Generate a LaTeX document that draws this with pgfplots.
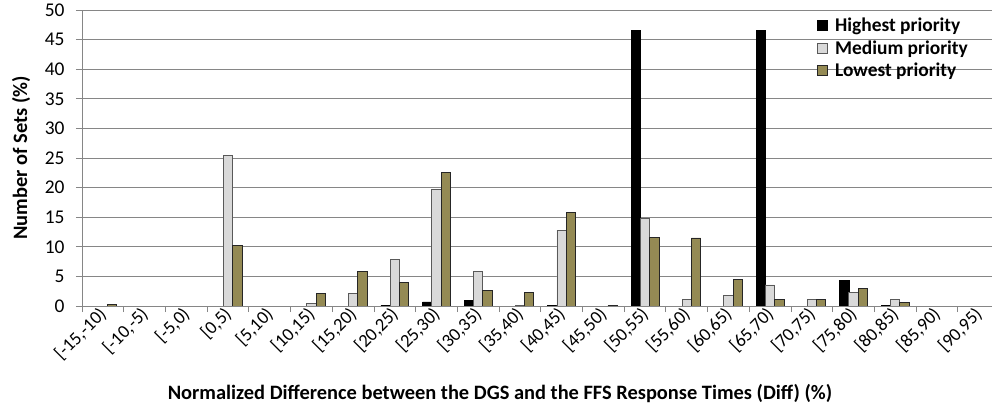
\documentclass[border=0pt]{standalone}
\usepackage{pgfplots}
\pgfplotsset{compat=1.18}
\usepackage{fontspec}
\setmainfont{Carlito}
\definecolor{olivebar}{RGB}{148,138,84}
\definecolor{medbar}{RGB}{217,217,217}
\definecolor{gridgray}{RGB}{134,134,134}
\definecolor{axgray}{RGB}{134,134,134}
\begin{document}
\begin{tikzpicture}
\useasboundingbox (0,0) rectangle (992bp,407bp);
\clip (0,0) rectangle (992bp,407bp);
\begin{axis}[
  at={(82bp,101bp)}, anchor=south west,
  scale only axis,
  width=917.4bp, height=296bp,
  ybar=0pt, bar width=9.3bp,
  xmin=-0.5, xmax=21.5,
  ymin=0, ymax=50,
  enlargelimits=false,
  axis x line*=bottom, axis y line*=left,
  axis line style={axgray, line width=0.8bp},
  ytick={0,5,...,50},
  ymajorgrids,
  grid style={gridgray, line width=0.8bp},
  tick align=outside,
  major tick length=6bp,
  minor tick length=6bp,
  ytick style={axgray, line width=0.8bp},
  xtick={0,...,21},
  major x tick style={draw=none},
  minor xtick={-0.5,0.5,...,21.5},
  minor x tick style={axgray, line width=0.8bp},
  xticklabels={{[-15,-10)},{[-10,-5)},{[-5,0)},{[0,5)},{[5,10)},{[10,15)},{[15,20)},{[20,25)},{[25,30)},{[30,35)},{[35,40)},{[40,45)},{[45,50)},{[50,55)},{[55,60)},{[60,65)},{[65,70)},{[70,75)},{[75,80)},{[80,85)},{[85,90)},{[90,95)}},
  xticklabel style={rotate=45, anchor=east, font=\fontsize{18.5}{21}\selectfont, inner sep=1bp, xshift=2bp},
  yticklabel style={font=\fontsize{19.5}{22}\selectfont, xshift=-8bp},
  /pgf/number format/assume math mode=true,
  xlabel={Normalized Difference between the DGS and the FFS Response Times (Diff) (\%)},
  ylabel={Number of Sets (\%)},
  xlabel style={font=\bfseries\fontsize{20.5}{24}\selectfont, at={(ticklabel cs:0.4556)}, anchor=north, yshift=-17bp},
  ylabel style={font=\bfseries\fontsize{20.5}{24}\selectfont, at={(rel axis cs:-0.0665,0.5)}, anchor=center},
  legend style={at={(0.7985,0.988)}, anchor=north west, draw=none, fill=none,
    font=\bfseries\fontsize{19.5}{22}\selectfont, row sep=3.6bp, inner sep=2bp},
  legend cell align=left,
  legend image code/.code={\path[draw=none, fill=none] (0bp,-1bp) rectangle (16bp,1bp); \draw[#1] (0bp,-5bp) rectangle (10bp,5bp);},
]
\addplot[fill=black, draw=black, line width=0.6bp] coordinates {
(7,0.1) (8,0.68) (9,1.0) (11,0.1) (13,46.5) (16,46.5) (18,4.39) (19,0.1)};
\addplot[fill=medbar, draw=black!65, line width=0.8bp] coordinates {
(3,25.4) (5,0.4) (6,2.1) (7,7.9) (8,19.7) (9,5.9) (10,0.1) (11,12.8) (13,14.8) (14,1.1) (15,1.85) (16,3.55) (17,1.18) (18,2.3) (19,1.18)};
\addplot[fill=olivebar, draw=black!85, line width=0.8bp] coordinates {
(0,0.3) (3,10.3) (5,2.1) (6,5.85) (7,4.05) (8,22.5) (9,2.7) (10,2.36) (11,15.8) (12,0.1) (13,11.55) (14,11.5) (15,4.45) (16,1.06) (17,1.18) (18,3.04) (19,0.62)};
\legend{Highest priority, Medium priority, Lowest priority}
\end{axis}
\end{tikzpicture}
\end{document}
